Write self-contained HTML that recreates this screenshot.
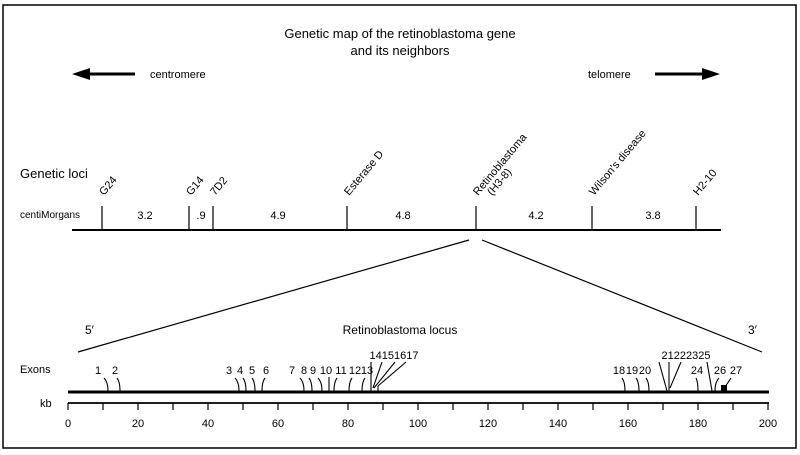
<!DOCTYPE html>
<html><head><meta charset="utf-8"><style>
body{margin:0;background:#fff}
svg{display:block}
text{font-family:"Liberation Sans",sans-serif;fill:#000}
</style></head><body>
<svg width="800" height="455" viewBox="0 0 800 455" xmlns="http://www.w3.org/2000/svg">
<rect x="3" y="5" width="793" height="443" fill="none" stroke="#000" stroke-width="1.5"/>
<text x="400" y="38" font-size="13" text-anchor="middle">Genetic map of the retinoblastoma gene</text>
<text x="400" y="55" font-size="13" text-anchor="middle">and its neighbors</text>
<line x1="86" y1="74" x2="135" y2="74" stroke="#000" stroke-width="3"/>
<polygon points="72,74 90,68 90,80" fill="#000"/>
<text x="150" y="78" font-size="11">centromere</text>
<text x="588" y="78" font-size="11">telomere</text>
<line x1="655" y1="74" x2="705" y2="74" stroke="#000" stroke-width="3"/>
<polygon points="720,74 702,68 702,80" fill="#000"/>
<text x="20" y="178" font-size="13">Genetic loci</text>
<text x="20" y="218" font-size="10">centiMorgans</text>
<line x1="72" y1="230" x2="721" y2="230" stroke="#000" stroke-width="2"/>
<g stroke="#000" stroke-width="1.2">
<line x1="102" y1="206" x2="102" y2="230"/><line x1="189" y1="206" x2="189" y2="230"/>
<line x1="213" y1="206" x2="213" y2="230"/><line x1="347" y1="206" x2="347" y2="230"/>
<line x1="476" y1="206" x2="476" y2="230"/><line x1="592" y1="206" x2="592" y2="230"/>
<line x1="696" y1="206" x2="696" y2="230"/>
</g>
<g font-size="11" text-anchor="middle">
<text x="145" y="219">3.2</text><text x="201" y="219">.9</text><text x="278" y="219">4.9</text>
<text x="403" y="219">4.8</text><text x="536" y="219">4.2</text><text x="653" y="219">3.8</text>
</g>
<g font-size="11">
<text transform="translate(104,196) rotate(-50)">G24</text>
<text transform="translate(191,196) rotate(-50)">G14</text>
<text transform="translate(215,196) rotate(-50)">7D2</text>
<text transform="translate(349,196) rotate(-50)">Esterase D</text>
<text transform="translate(478,196) rotate(-50)">Retinoblastoma</text>
<text transform="translate(492,196) rotate(-50)">(H3-8)</text>
<text transform="translate(594,196) rotate(-50)">Wilson's disease</text>
<text transform="translate(698,196) rotate(-50)">H2-10</text>
</g>
<line x1="469" y1="240" x2="78" y2="352" stroke="#000" stroke-width="1.2"/>
<line x1="482" y1="240" x2="762" y2="352" stroke="#000" stroke-width="1.2"/>
<text x="85" y="334" font-size="12">5′</text>
<text x="748" y="334" font-size="12">3′</text>
<text x="400" y="334" font-size="12" text-anchor="middle">Retinoblastoma locus</text>
<text x="20" y="373" font-size="11">Exons</text>
<line x1="68" y1="392" x2="769" y2="392" stroke="#000" stroke-width="3"/>
<g stroke="#000" stroke-width="1.1" fill="none">
<path d="M104,378 Q108,382 108,391"/><path d="M117,378 Q120,382 120,391"/>
<path d="M235,378 Q239,382 239,391"/><path d="M243,378 Q246,382 246,391"/>
<path d="M252,378 Q255,382 255,391"/><path d="M265,378 Q262,382 262,391"/>
<path d="M300,378 Q304,382 304,391"/><path d="M309,378 Q312,382 312,391"/>
<path d="M318,378 Q322,382 322,391"/><line x1="329" y1="377" x2="329" y2="391"/>
<path d="M337,378 Q334,382 334,391"/><path d="M352,378 Q349,382 349,391"/>
<path d="M365,378 Q362,382 362,391"/>
<line x1="371" y1="362" x2="371" y2="391"/><line x1="382" y1="362" x2="373" y2="388"/>
<line x1="395" y1="362" x2="374" y2="388"/><line x1="406" y1="362" x2="378" y2="386"/>
<line x1="378" y1="386" x2="378" y2="391"/>
<path d="M622,378 Q625,382 625,391"/><path d="M636,378 Q639,382 639,391"/>
<path d="M646,378 Q649,382 649,391"/>
<line x1="659" y1="362" x2="667" y2="391"/><line x1="669" y1="362" x2="669" y2="391"/>
<line x1="681" y1="362" x2="670" y2="388"/>
<path d="M696,378 Q698,382 698,391"/>
<line x1="707" y1="362" x2="712" y2="391"/><path d="M719,378 Q715,382 715,391"/>
<line x1="731" y1="378" x2="725" y2="387"/>
</g>
<rect x="721" y="385" width="6" height="7" fill="#000"/>
<g font-size="11" text-anchor="middle">
<text x="98" y="374">1</text><text x="115" y="374">2</text>
<text x="229" y="374">3</text><text x="240" y="374">4</text><text x="252" y="374">5</text><text x="266" y="374">6</text>
<text x="292" y="374">7</text><text x="304" y="374">8</text><text x="313" y="374">9</text>
<text x="326" y="374">10</text><text x="341" y="374">11</text><text x="355" y="374">12</text><text x="367" y="374">13</text>
<text x="394" y="359">14151617</text>
<text x="619" y="374">18</text><text x="632" y="374">19</text><text x="645" y="374">20</text>
<text x="686" y="359">21222325</text>
<text x="697" y="374">24</text><text x="720" y="374">26</text><text x="736" y="374">27</text>
</g>
<text x="40" y="407" font-size="11">kb</text>
<line x1="68" y1="403" x2="769" y2="403" stroke="#000" stroke-width="1.8"/>
<g stroke="#000" stroke-width="1.2">
<line x1="68" y1="403" x2="68" y2="410"/><line x1="103" y1="403" x2="103" y2="410"/>
<line x1="138" y1="403" x2="138" y2="410"/><line x1="173" y1="403" x2="173" y2="410"/>
<line x1="208" y1="403" x2="208" y2="410"/><line x1="243" y1="403" x2="243" y2="410"/>
<line x1="278" y1="403" x2="278" y2="410"/><line x1="313" y1="403" x2="313" y2="410"/>
<line x1="348" y1="403" x2="348" y2="410"/><line x1="383" y1="403" x2="383" y2="410"/>
<line x1="418" y1="403" x2="418" y2="410"/><line x1="453" y1="403" x2="453" y2="410"/>
<line x1="488" y1="403" x2="488" y2="410"/><line x1="523" y1="403" x2="523" y2="410"/>
<line x1="558" y1="403" x2="558" y2="410"/><line x1="593" y1="403" x2="593" y2="410"/>
<line x1="628" y1="403" x2="628" y2="410"/><line x1="663" y1="403" x2="663" y2="410"/>
<line x1="698" y1="403" x2="698" y2="410"/><line x1="733" y1="403" x2="733" y2="410"/>
<line x1="768" y1="403" x2="768" y2="410"/>
</g>
<g font-size="11" text-anchor="middle">
<text x="68" y="427">0</text><text x="138" y="427">20</text><text x="208" y="427">40</text>
<text x="278" y="427">60</text><text x="348" y="427">80</text><text x="418" y="427">100</text>
<text x="488" y="427">120</text><text x="558" y="427">140</text><text x="628" y="427">160</text>
<text x="698" y="427">180</text><text x="768" y="427">200</text>
</g>
</svg>
</body></html>
